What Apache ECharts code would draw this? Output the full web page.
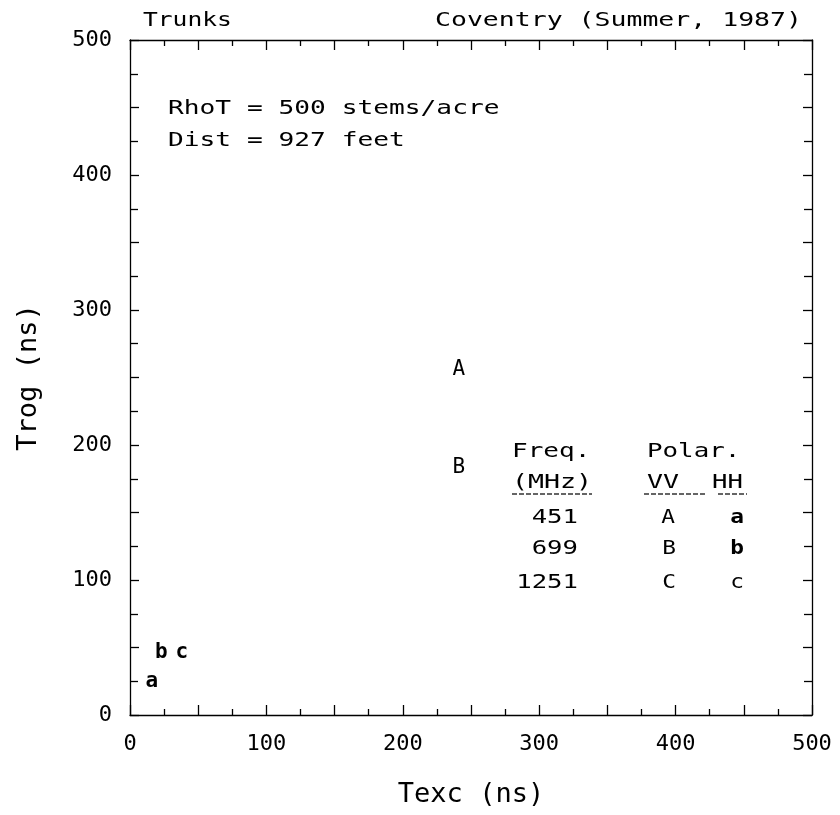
<!DOCTYPE html>
<html>
<head>
<meta charset="utf-8">
<script src="https://cdn.jsdelivr.net/npm/echarts@6/dist/echarts.min.js"></script>
<style>
html,body{margin:0;padding:0;background:#fff;}
#c{width:840px;height:815px;}
</style>
</head>
<body>
<div id="c"></div>
<script>
// ---- data ----
const freqs = [451, 699, 1251];
const vvLabels = ['A', 'B', 'C'];
const hhLabels = ['a', 'b', 'c'];
const vvTexc = [241, 241, null];
const vvTrog = [256, 183, null];
const hhTexc = [16, 23, 38];
const hhTrog = [25, 46, 46];
const xTicks = [0, 100, 200, 300, 400, 500];
const yTicks = [0, 100, 200, 300, 400, 500];

const MONO = "'DejaVu Sans Mono', 'Liberation Mono', monospace";

function pts(xs, ys, labels) {
  const out = [];
  for (let i = 0; i < xs.length; i++) {
    if (xs[i] != null && ys[i] != null) out.push([xs[i], ys[i], labels[i]]);
  }
  return out;
}

function txt(str, x, y, size, sx, align, weight) {
  return {
    type: 'text', x: x, y: y, scaleX: sx, silent: true,
    style: {
      text: str, font: (weight || 'normal') + ' ' + size + 'px ' + MONO,
      fill: '#000', textAlign: align || 'left', textVerticalAlign: 'middle'
    }
  };
}
function uline(x1, x2, y) {
  return { type: 'line', silent: true, shape: { x1: x1, y1: y, x2: x2, y2: y },
    style: { stroke: '#333', lineWidth: 1.5, lineDash: [5, 2] } };
}

const tickStyle = { color: '#000', width: 1.3 };

function mkAxis(pos, showLabel, isX) {
  return {
    type: 'value', position: pos, min: 0, max: 500, interval: 50,
    axisLine: { show: true, onZero: false, lineStyle: { color: '#000', width: 1.3 } },
    axisTick: { show: true, inside: true, length: isX ? 10 : 9, lineStyle: tickStyle },
    minorTick: { show: true, splitNumber: 2, length: isX ? 6 : 8, lineStyle: tickStyle },
    splitLine: { show: false },
    axisLabel: {
      show: showLabel, margin: 18, color: '#000', fontFamily: MONO, fontSize: 22,
      formatter: function (v) { return (isX ? xTicks : yTicks).indexOf(v) >= 0 ? String(v) : ''; }
    }
  };
}

const xb = mkAxis('bottom', true, true);
xb.name = 'Texc (ns)';
xb.nameLocation = 'middle';
xb.nameGap = 66;
xb.nameTextStyle = { color: '#000', fontFamily: MONO, fontSize: 27 };
const xt = mkAxis('top', false, true);
const yl = mkAxis('left', true, false);
yl.name = 'Trog (ns)';
yl.nameLocation = 'middle';
yl.nameRotate = 90;
yl.nameGap = 88;
yl.nameTextStyle = { color: '#000', fontFamily: MONO, fontSize: 27 };
const yr = mkAxis('right', false, false);

const letterLabel = function (bold) {
  return {
    show: true, position: 'inside', color: '#000', fontFamily: MONO, fontSize: 21,
    fontWeight: bold ? 'bold' : 'normal', opacity: 1,
    formatter: function (p) { return p.data[2]; }
  };
};

const chart = echarts.init(document.getElementById('c'));
chart.setOption({
  animation: false,
  backgroundColor: '#fff',
  grid: { left: 130, right: 28, top: 40, bottom: 100 },
  xAxis: [xb, xt],
  yAxis: [yl, yr],
  series: [
    {
      name: 'VV', type: 'scatter', xAxisIndex: 0, yAxisIndex: 0,
      symbol: 'circle', symbolSize: 1, itemStyle: { color: 'rgba(0,0,0,0)', opacity: 1 },
      label: letterLabel(false),
      data: pts(vvTexc, vvTrog, vvLabels)
    },
    {
      name: 'HH', type: 'scatter', xAxisIndex: 0, yAxisIndex: 0,
      symbol: 'circle', symbolSize: 1, itemStyle: { color: 'rgba(0,0,0,0)', opacity: 1 },
      label: letterLabel(true),
      data: pts(hhTexc, hhTrog, hhLabels)
    }
  ],
  graphic: [
    txt('Trunks', 143, 21, 20, 1.23),
    txt('Coventry (Summer, 1987)', 435, 21, 20, 1.325),
    txt('RhoT = 500 stems/acre', 168, 109, 19, 1.38),
    txt('Dist = 927 feet', 168, 141, 19, 1.38),
    txt('Freq.', 512, 452, 19, 1.37),
    txt('Polar.', 647, 452, 19, 1.36),
    txt('(MHz)', 512, 483, 19, 1.4),
    txt('VV', 647, 483, 19, 1.4),
    txt('HH', 712, 483, 19, 1.35),
    uline(512, 592, 494), uline(644, 706, 494), uline(718, 747, 494),
    txt(String(freqs[0]), 578, 518, 19, 1.35, 'right'),
    txt(String(freqs[1]), 578, 549, 19, 1.35, 'right'),
    txt(String(freqs[2]), 578, 583, 19, 1.35, 'right'),
    txt(vvLabels[0], 668, 518, 19, 1.2, 'center'),
    txt(vvLabels[1], 669, 549, 19, 1.2, 'center'),
    txt(vvLabels[2], 669, 583, 19, 1.2, 'center'),
    txt(hhLabels[0], 737, 518, 19, 1.2, 'center', 'bold'),
    txt(hhLabels[1], 737, 549, 19, 1.2, 'center', 'bold'),
    txt(hhLabels[2], 737, 583, 19, 1.2, 'center')
  ]
});
</script>
</body>
</html>
